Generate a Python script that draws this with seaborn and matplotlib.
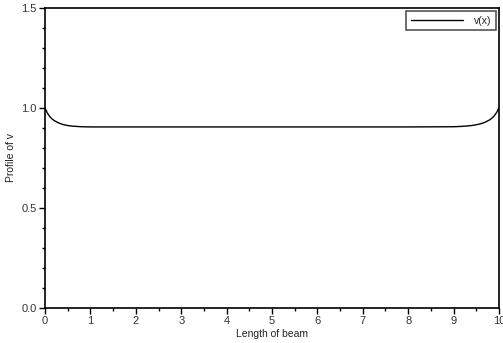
import pandas as pd
import matplotlib.pyplot as plt
import seaborn as sns
from matplotlib.ticker import MultipleLocator

# profile of v along the beam
beam_x = [0.0, 0.05, 0.1, 0.15, 0.2, 0.3, 0.4, 0.5, 0.6, 0.8, 1.0, 2.0, 3.0, 4.0, 5.0,
          6.0, 7.0, 8.0, 9.0, 9.2, 9.4, 9.5, 9.6, 9.7, 9.8, 9.85, 9.9, 9.95, 10.0]
profile_v = [1.0, 0.975, 0.958, 0.946, 0.937, 0.925, 0.917, 0.912, 0.909, 0.906, 0.905, 0.905, 0.905,
             0.905, 0.905, 0.905, 0.905, 0.905, 0.906, 0.908, 0.912, 0.916, 0.921, 0.929, 0.941,
             0.950, 0.962, 0.978, 1.0]

data = pd.DataFrame({'x': beam_x, 'v': profile_v})

sns.set_style("white")
plt.rcParams['font.family'] = ['Liberation Sans', 'DejaVu Sans']

fig = plt.figure(figsize=(5.03, 3.43), dpi=100)
ax = fig.add_axes([0.0895, 0.102, 0.9025, 0.875])
sns.lineplot(data=data, x='x', y='v', color='black', linewidth=1.0, label='v(x)', ax=ax)

ax.set_xlim(0, 10)
ax.set_ylim(0, 1.5)
ax.xaxis.set_major_locator(MultipleLocator(1))
ax.xaxis.set_minor_locator(MultipleLocator(0.5))
ax.yaxis.set_major_locator(MultipleLocator(0.5))
ax.yaxis.set_minor_locator(MultipleLocator(0.1))
ax.yaxis.set_major_formatter(plt.FormatStrFormatter('%.1f'))
ax.tick_params(which='both', direction='out', bottom=True, left=True, top=False, right=False,
               colors='black', labelsize=8, labelcolor='#333333', width=1)
ax.tick_params(which='major', length=4, pad=2)
ax.tick_params(which='minor', length=2.5)
for s in ax.spines.values():
    s.set_color('black')
    s.set_linewidth(1.2)

ax.set_xlabel('Length of beam', fontsize=7.5, color='#222222', labelpad=2)
ax.set_ylabel('Profile of v', fontsize=7.5, color='#222222', labelpad=4)

leg = ax.legend(loc='upper right', fontsize=7.5, handlelength=5.0, handletextpad=1.0,
                fancybox=False, framealpha=1, borderpad=0.45, borderaxespad=0.3)
leg.get_frame().set_edgecolor('#555555')
leg.get_frame().set_linewidth(1.2)

plt.savefig("out.png", dpi=100)
